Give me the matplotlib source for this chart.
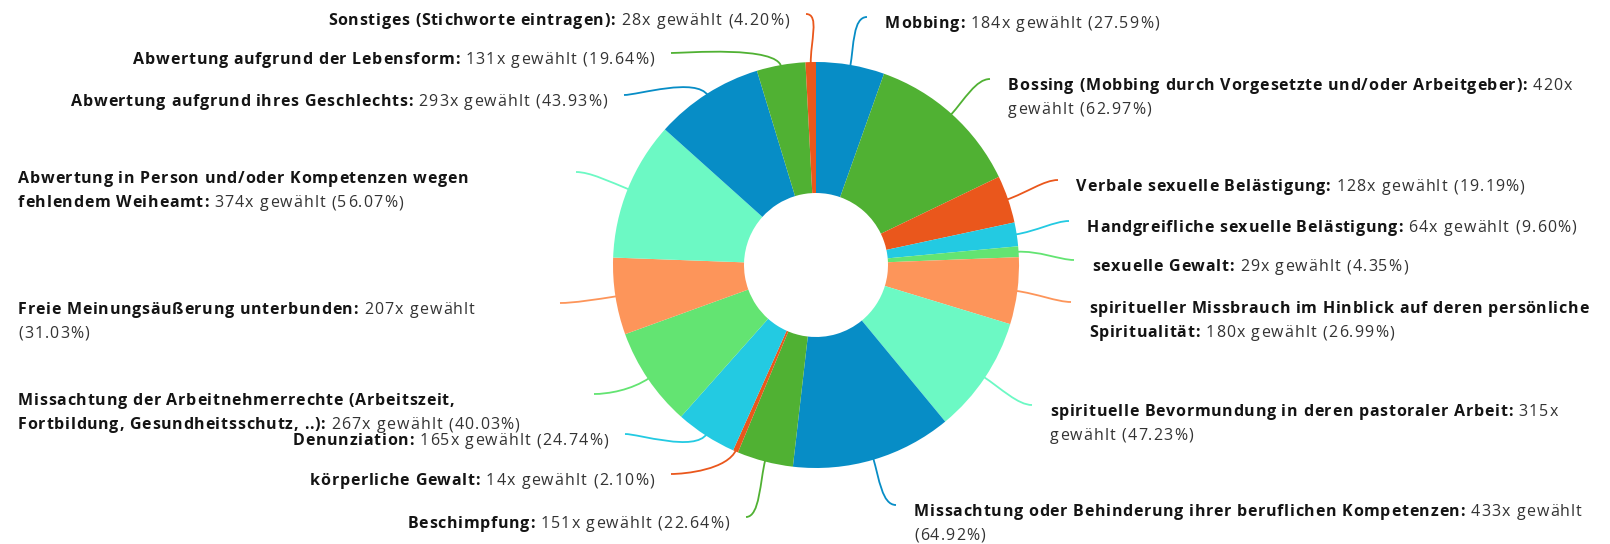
import matplotlib
matplotlib.use("Agg")
import matplotlib.pyplot as plt
from matplotlib import font_manager as fm
from matplotlib import ft2font
from matplotlib.path import Path
from matplotlib.patches import PathPatch
import numpy as np

# Daten (im Uhrzeigersinn ab 12 Uhr)
categories = [
    "Mobbing",
    "Bossing (Mobbing durch Vorgesetzte und/oder Arbeitgeber)",
    "Verbale sexuelle Belästigung",
    "Handgreifliche sexuelle Belästigung",
    "sexuelle Gewalt",
    "spiritueller Missbrauch im Hinblick auf deren persönliche Spiritualität",
    "spirituelle Bevormundung in deren pastoraler Arbeit",
    "Missachtung oder Behinderung ihrer beruflichen Kompetenzen",
    "Beschimpfung",
    "körperliche Gewalt",
    "Denunziation",
    "Missachtung der Arbeitnehmerrechte (Arbeitszeit, Fortbildung, Gesundheitsschutz, ..)",
    "Freie Meinungsäußerung unterbunden",
    "Abwertung in Person und/oder Kompetenzen wegen fehlendem Weiheamt",
    "Abwertung aufgrund ihres Geschlechts",
    "Abwertung aufgrund der Lebensform",
    "Sonstiges (Stichworte eintragen)",
]
counts = [184, 420, 128, 64, 29, 180, 315, 433, 151, 14, 165, 267, 207, 374, 293, 131, 28]
percents = ["27.59%", "62.97%", "19.19%", "9.60%", "4.35%", "26.99%", "47.23%", "64.92%",
            "22.64%", "2.10%", "24.74%", "40.03%", "31.03%", "56.07%", "43.93%", "19.64%", "4.20%"]

palette = ['#078dc6', '#50b133', '#ea571c', '#23cae2', '#63e472', '#fd955a', '#6cf9c4']

# Layout in Pixeln (y nach unten)
W, H = 1610, 544
CX, CY = 816, 265
R_OUT, R_IN = 203, 72
FS_PX = 16
FS = FS_PX * 72 / 100
LINE = 24

# Endpunkt der Verbindungslinie, Seite, Wörter in Zeile 1 (0 = einzeilig)
ends = [(867, 17), (990, 79), (1058, 180), (1069, 221), (1074, 260), (1071, 302),
        (1032, 405), (896, 505), (746, 517), (671, 474), (625, 434), (594, 394),
        (560, 303), (576, 172), (624, 95), (671, 53), (806, 14)]
sides = ['r'] * 8 + ['l', 'l', 'l', 'b', 'b', 'b', 'l', 'l', 'l']
first_line = [0, 7, 0, 0, 0, 7, 7, 8, 0, 0, 0, 4, 5, 6, 0, 0, 0]

# Schrift: Open Sans, leicht gesperrt wie im Original
load_flags = ft2font.LoadFlags.NO_HINTING if hasattr(ft2font, 'LoadFlags') else ft2font.LOAD_NO_HINTING
fonts = {}
for wt in ('bold', 'normal'):
    f = ft2font.FT2Font(fm.findfont(fm.FontProperties(family='Open Sans', weight=wt)))
    f.set_size(FS, 100)
    fonts[wt] = f


def adv(c, wt):
    return fonts[wt].load_char(ord(c), flags=load_flags).linearHoriAdvance / 65536


def natural(s, wt):
    return sum(adv(c, wt) for c in s)


# Sperrung so, dass die Breiten dem Original entsprechen
s_b, s_r = "Sonstiges (Stichworte eintragen):", "28x gewählt (4.20%)"
TRACK = {'bold': max(0.0, (287 - natural(s_b, 'bold')) / (len(s_b) - 1)),
         'normal': max(0.0, (168 - natural(s_r, 'normal')) / (len(s_r) - 1))}
TXT_COL = {'bold': '#141414', 'normal': '#333333'}

fig = plt.figure(figsize=(W / 100, H / 100), dpi=100)
ax = fig.add_axes([0, 0, 1, 1])
colors = [palette[i % len(palette)] for i in range(len(counts))]
wedges, _ = ax.pie(counts, colors=colors, startangle=-90, counterclock=True,
                   center=(CX, CY), radius=R_OUT,
                   wedgeprops=dict(width=R_OUT - R_IN, edgecolor='none', linewidth=0))
ax.set_xlim(0, W)
ax.set_ylim(H, 0)
ax.set_aspect('equal')
ax.set_position([0, 0, 1, 1])
ax.axis('off')


def draw_label(i, x0, yb0, side):
    tokens = [(w, 'bold') for w in (categories[i] + ":").split()]
    tokens += [(w, 'normal') for w in f"{counts[i]}x gewählt ({percents[i]})".split()]
    k = first_line[i]
    lines = [tokens[:k], tokens[k:]] if k else [tokens]
    for li, line in enumerate(lines):
        chars = []
        for j, (w, wt) in enumerate(line):
            if j:
                chars.append((" ", wt))
            chars += [(c, wt) for c in w]
        steps = [adv(c, wt) + TRACK[wt] for c, wt in chars]
        total = sum(steps) - TRACK[chars[-1][1]]
        x = x0 - total if side == 'l' else x0
        yb = yb0 + li * LINE
        for (c, wt), st in zip(chars, steps):
            if c != " ":
                ax.text(x, yb, c, fontsize=FS, family='Open Sans', fontweight=wt,
                        va='baseline', ha='left', color=TXT_COL[wt])
            x += st


for i, wdg in enumerate(wedges):
    ang = np.deg2rad((wdg.theta1 + wdg.theta2) / 2)
    d = np.array([np.cos(ang), np.sin(ang)])
    p0 = np.array([CX, CY]) + d * (R_OUT - 2)
    p1 = p0 + d * 22
    ex, ey = ends[i]
    sgn = 1 if sides[i] == 'r' else -1
    p2 = np.array([ex - sgn * 14, ey])
    p3 = np.array([ex, ey])
    path = Path([p0, p1, p2, p3], [Path.MOVETO, Path.CURVE4, Path.CURVE4, Path.CURVE4])
    ax.add_patch(PathPatch(path, fill=False, edgecolor=colors[i], lw=1.3, zorder=0))

    if sides[i] == 'r':
        draw_label(i, ex + 18, ey + 11, 'r')
    elif sides[i] == 'l':
        draw_label(i, ex - 17, ey + 11, 'l')
    else:
        draw_label(i, 18, ey + 11, 'b')

fig.savefig("out.png", dpi=100)
